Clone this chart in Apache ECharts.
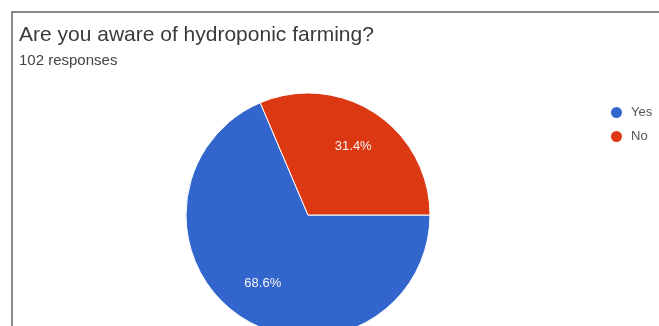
<!DOCTYPE html>
<html>
<head>
<meta charset="utf-8">
<style>
	html, body { margin: 0; padding: 0; background: #fff; }
	#chart { width: 659px; height: 326px; }
</style>
<script src="https://cdn.jsdelivr.net/npm/echarts@6/dist/echarts.min.js"></script>
</head>
<body>
<div id="chart"></div>
<script>
var titleText = 'Are you aware of hydroponic farming?';
var subText = '102 responses';
var categories = ['Yes', 'No'];
var percents = [68.6, 31.4];
var colors = ['#3366cc', '#dc3912'];

var pieData = categories.map(function (name, i) {
	return { name: name, value: percents[i] };
});

var chart = echarts.init(document.getElementById('chart'));
var option = {
	backgroundColor: '#fff',
	color: colors,
	title: {
		text: titleText,
		subtext: subText,
		left: 14,
		top: 20,
		itemGap: 7,
		textStyle: { fontFamily: 'Liberation Sans', fontSize: 21, fontWeight: 'normal', color: '#3a3a3a' },
		subtextStyle: { fontFamily: 'Liberation Sans', fontSize: 15, color: '#444' }
	},
	graphic: [{
		type: 'rect',
		shape: { x: 12, y: 12, width: 700, height: 400 },
		style: { fill: 'none', stroke: '#8a8a8a', lineWidth: 2 },
		silent: true
	}],
	legend: {
		orient: 'vertical',
		left: 604,
		top: 100,
		icon: 'circle',
		itemWidth: 13,
		itemHeight: 13,
		itemGap: 9,
		data: categories,
		textStyle: { fontFamily: 'Liberation Sans', fontSize: 13, color: '#555', padding: [0, 0, 0, 3] }
	},
	series: [
		{
			type: 'pie',
			center: [308, 215],
			radius: [0, 122],
			startAngle: 0,
			clockwise: true,
			silent: true,
			label: { show: false },
			labelLine: { show: false },
			itemStyle: { borderColor: '#fff', borderWidth: 1 },
			data: pieData
		},
		{
			// transparent ring used only to place the percent labels
			type: 'pie',
			center: [308, 215],
			radius: [36, 122],
			startAngle: 0,
			clockwise: true,
			silent: true,
			itemStyle: { color: 'rgba(0,0,0,0)' },
			label: {
				show: true,
				position: 'inside',
				formatter: function (p) { return p.value.toFixed(1) + '%'; },
				fontFamily: 'Liberation Sans',
				fontSize: 13,
				color: '#f4f4f4'
			},
			labelLine: { show: false },
			data: pieData
		}
	]
};
chart.setOption(option);
</script>
</body>
</html>
